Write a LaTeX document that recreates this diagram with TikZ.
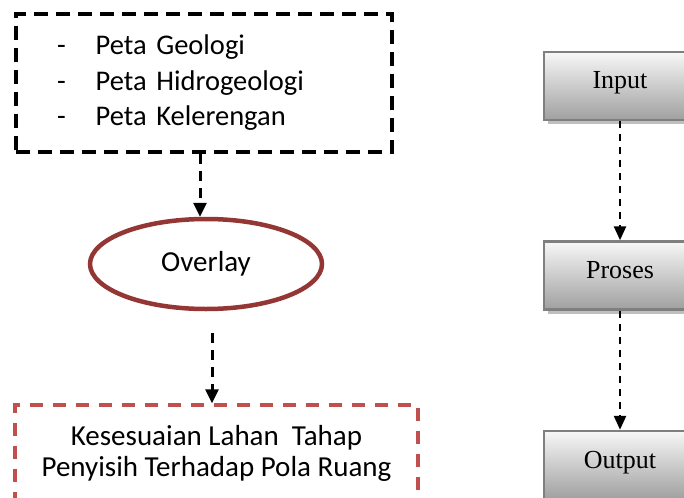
\documentclass[tikz,border=0pt]{standalone}
\usepackage{fontspec}
\setmainfont{Carlito}
\newfontfamily\timesface{Liberation Serif}
\usetikzlibrary{arrows.meta,shapes.geometric,shadows}
\definecolor{ovred}{HTML}{943634}
\definecolor{boxred}{HTML}{C0504D}
\definecolor{proctop}{HTML}{F7F7F7}
\definecolor{procbot}{HTML}{A0A0A0}
\definecolor{procline}{HTML}{7F7F7F}
\definecolor{procshadow}{HTML}{BFBFBF}
\tikzset{
  srcbox/.style={draw=black, line width=4pt, dash pattern=on 14pt off 8pt,
    minimum width=376pt, minimum height=138pt, text width=294pt, inner xsep=41pt,
    align=left, font=\fontsize{28.5}{35.5}\selectfont},
  ovnode/.style={ellipse, draw=ovred, line width=4.5pt, minimum width=232pt,
    minimum height=90pt, inner sep=0pt, font=\fontsize{29}{33}\selectfont},
  resbox/.style={draw=boxred, line width=3.5pt, dash pattern=on 13pt off 10pt,
    minimum width=403pt, minimum height=96pt, align=center,
    font=\fontsize{29}{31}\selectfont},
  procbox/.style={draw=procline, line width=2.5pt, top color=proctop, bottom color=procbot,
    minimum width=152pt, minimum height=68pt, text height=12pt, text depth=6pt,
    font=\timesface\fontsize{26}{30}\selectfont,
    drop shadow={shadow xshift=4pt, shadow yshift=-4pt, fill=procshadow, opacity=1}},
  larr/.style={line width=3pt, dash pattern=on 10pt off 7pt,
    -{Triangle[width=13pt,length=14pt]}},
  rarr/.style={line width=2.5pt, dash pattern=on 7pt off 6pt,
    -{Triangle[width=12pt,length=14pt]}}
}
\begin{document}
\begin{tikzpicture}[x=1pt,y=-1pt]
\useasboundingbox (0,0) rectangle (684,497);
\clip (0,0) rectangle (684,497);
\fill[white] (0,0) rectangle (684,497);
% left flow
\node[srcbox] (src) at (204,83) {-\hspace{30pt}Peta Geologi\\-\hspace{30pt}Peta Hidrogeologi\\-\hspace{30pt}Peta Kelerengan};
\node[ovnode] (ov) at (206,264) {Overlay};
\node[resbox] (res) at (216.5,453) {Kesesuaian Lahan\ \ Tahap\\Penyisih Terhadap Pola Ruang};
\draw[larr] ([xshift=-4pt]src.south) -- ([xshift=-4pt]src.south |- ov.north);
\draw[larr] ([xshift=6pt,yshift=-22pt]ov.south) -- ([xshift=6pt]ov.south |- res.north);
% right flow
\node[procbox] (in) at (620,86) {Input};
\node[procbox] (pr) at (620,275.5) {Proses};
\node[procbox] (out) at (620,465) {Output};
\draw[rarr] (in.south) -- (pr.north);
\draw[rarr] (pr.south) -- (out.north);
\end{tikzpicture}
\end{document}
